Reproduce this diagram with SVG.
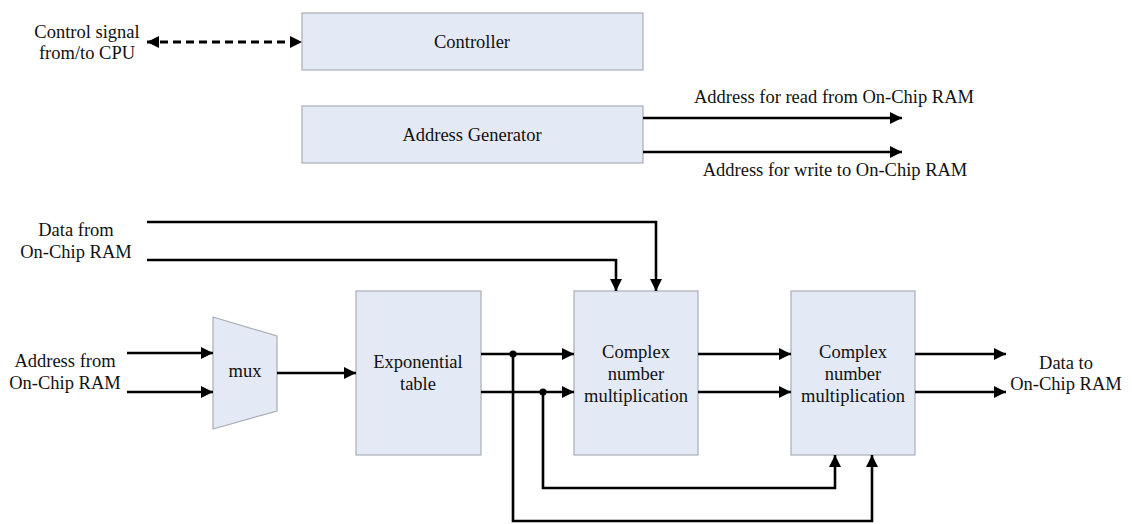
<svg xmlns="http://www.w3.org/2000/svg" width="1132" height="524" viewBox="0 0 1132 524">
  <style>
    .box { fill: #e3e9f5; stroke: #a9adb5; stroke-width: 1.2; }
    .lbl { font-family: 'Liberation Serif', 'DejaVu Serif', serif; font-size: 18.5px; fill: #111; text-anchor: middle; }
    .wire { fill: none; stroke: #000; stroke-width: 2.6; }
    .arr { marker-end: url(#head); }
    .dash { stroke-width: 2.8; stroke-dasharray: 8 5; marker-start: url(#head); marker-end: url(#head); }
    .dot { fill: #000; }
  </style>
  <defs>
    <marker id="head" markerUnits="userSpaceOnUse" markerWidth="14" markerHeight="14" refX="12" refY="6" orient="auto-start-reverse">
      <path d="M0,0 L12,6 L0,12 z" fill="#000"/>
    </marker>
  </defs>
  <rect width="1132" height="524" fill="#fff"/>

  <!-- free-standing port labels -->
  <g id="labels">
    <text class="lbl" x="87" y="38">Control signal</text>
    <text class="lbl" x="87" y="59">from/to CPU</text>
    <text class="lbl" x="834" y="103">Address for read from On-Chip RAM</text>
    <text class="lbl" x="835" y="176">Address for write to On-Chip RAM</text>
    <text class="lbl" x="76" y="236">Data from</text>
    <text class="lbl" x="76" y="258">On-Chip RAM</text>
    <text class="lbl" x="65" y="367">Address from</text>
    <text class="lbl" x="65" y="389">On-Chip RAM</text>
    <text class="lbl" x="1066" y="369">Data to</text>
    <text class="lbl" x="1066" y="390">On-Chip RAM</text>
  </g>

  <g id="controller">
    <rect class="box" x="302" y="13" width="341" height="57"/>
    <text class="lbl" x="472" y="48">Controller</text>
  </g>

  <g id="address-generator">
    <rect class="box" x="302" y="106" width="341" height="57"/>
    <text class="lbl" x="472" y="141">Address Generator</text>
  </g>

  <g id="mux">
    <polygon class="box" points="213,317 277,336 277,411 213,429"/>
    <text class="lbl" x="245" y="377">mux</text>
  </g>

  <g id="exp-table">
    <rect class="box" x="356" y="291" width="125" height="164"/>
    <text class="lbl" x="418" y="368">Exponential</text>
    <text class="lbl" x="418" y="390">table</text>
  </g>

  <g id="cmul-1">
    <rect class="box" x="574" y="291" width="124" height="164"/>
    <text class="lbl" x="636" y="358">Complex</text>
    <text class="lbl" x="636" y="380">number</text>
    <text class="lbl" x="636" y="402">multiplication</text>
  </g>

  <g id="cmul-2">
    <rect class="box" x="791" y="291" width="124" height="164"/>
    <text class="lbl" x="853" y="358">Complex</text>
    <text class="lbl" x="853" y="380">number</text>
    <text class="lbl" x="853" y="402">multiplication</text>
  </g>

  <g id="connectors">
    <!-- CPU control link -->
    <line class="wire dash" x1="147" y1="42" x2="302" y2="42"/>
    <!-- address generator outputs -->
    <line class="wire arr" x1="643" y1="118" x2="902" y2="118"/>
    <line class="wire arr" x1="643" y1="152" x2="902" y2="152"/>
    <!-- data from RAM into first multiplier -->
    <polyline class="wire arr" points="147,222 656,222 656,291"/>
    <polyline class="wire arr" points="147,260 616,260 616,291"/>
    <!-- address inputs to mux -->
    <line class="wire arr" x1="127" y1="353" x2="213" y2="353"/>
    <line class="wire arr" x1="127" y1="392" x2="213" y2="392"/>
    <!-- mux to table -->
    <line class="wire arr" x1="277" y1="373" x2="356" y2="373"/>
    <!-- table to first multiplier -->
    <line class="wire arr" x1="481" y1="354" x2="574" y2="354"/>
    <line class="wire arr" x1="481" y1="392" x2="574" y2="392"/>
    <!-- first to second multiplier -->
    <line class="wire arr" x1="698" y1="354" x2="791" y2="354"/>
    <line class="wire arr" x1="698" y1="392" x2="791" y2="392"/>
    <!-- outputs -->
    <line class="wire arr" x1="915" y1="354" x2="1006" y2="354"/>
    <line class="wire arr" x1="915" y1="392" x2="1006" y2="392"/>
    <!-- table outputs fed around to the second multiplier -->
    <polyline class="wire arr" points="543,392 543,488 835,488 835,455"/>
    <polyline class="wire arr" points="513,354 513,521 872,521 872,455"/>
    <circle class="dot" cx="513" cy="354" r="3.6"/>
    <circle class="dot" cx="543" cy="392" r="3.6"/>
  </g>
</svg>
